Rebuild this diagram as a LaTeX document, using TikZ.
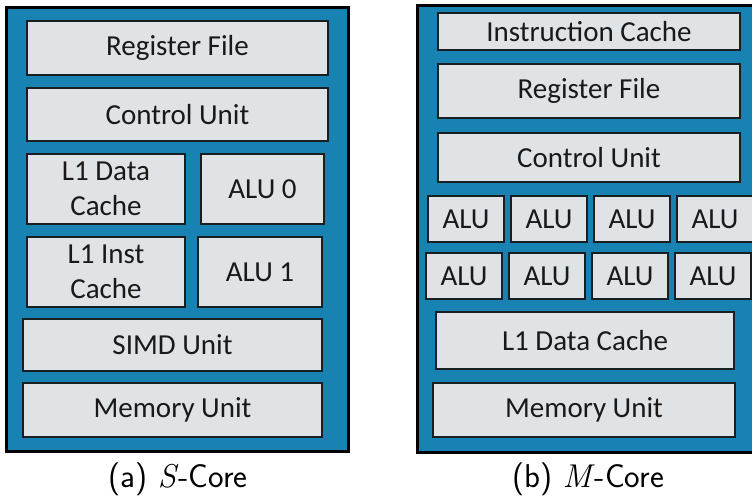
\documentclass[tikz,border=0pt]{standalone}
\usepackage{fontspec}
\newfontfamily\boxfont{Carlito}
\definecolor{coreblue}{RGB}{24,130,178}
\definecolor{unitgrey}{RGB}{224,227,230}
\definecolor{unitedge}{RGB}{25,30,35}
\newcommand{\mathletter}[1]{{\rmfamily\itshape #1\/}}
\tikzset{
  core/.style={draw=black,line width=3pt,fill=coreblue},
  unit/.style={draw=unitedge,line width=1.4pt,fill=unitgrey,rectangle,inner sep=0pt,
    font=\boxfont\fontsize{29}{35}\selectfont,align=center,text=black!90},
  captext/.style={font=\sffamily\fontsize{33}{38}\selectfont,inner sep=0pt}
}
\begin{document}
\begin{tikzpicture}[x=1pt,y=-1pt]
\clip (0,0) rectangle (752,498);
\fill[white] (0,0) rectangle (752,498);
% S-Core
\draw[core] (6,7) rectangle (348,451);
\node[unit,minimum width=301pt,minimum height=54pt] (srf) at (177.5,48) {Register File};
\node[unit,minimum width=301pt,minimum height=53pt] (scu) at (177.5,114.5) {Control Unit};
\node[unit,minimum width=158pt,minimum height=70pt] (sl1d) at (106,189) {L1 Data\\Cache};
\node[unit,minimum width=123pt,minimum height=70pt] (salu0) at (262.5,189) {ALU 0};
\node[unit,minimum width=158pt,minimum height=70pt] (sl1i) at (106,272) {L1 Inst\\Cache};
\node[unit,minimum width=124pt,minimum height=70pt] (salu1) at (260,272) {ALU 1};
\node[unit,minimum width=299pt,minimum height=52pt] (ssimd) at (172.5,345) {SIMD Unit};
\node[unit,minimum width=299pt,minimum height=54pt] (smu) at (172.5,410) {Memory Unit};
\node[captext] (scap) at (178,479) {(a) \mathletter{S}-Core};
% M-Core
\draw[core] (417,5) rectangle (762,452);
\node[unit,minimum width=302pt,minimum height=37pt] (mic) at (589,31.5) {Instruction Cache};
\node[unit,minimum width=302pt,minimum height=54pt] (mrf) at (589,91) {Register File};
\node[unit,minimum width=302pt,minimum height=49pt] (mcu) at (589,157.5) {Control Unit};
\foreach \x [count=\i] in {466,549,632,715}{
  \node[unit,minimum width=76pt,minimum height=46pt] (malua\i) at (\x,219) {ALU};
}
\foreach \x [count=\i] in {464,547,630,713}{
  \node[unit,minimum width=76pt,minimum height=46pt] (malub\i) at (\x,276) {ALU};
}
\node[unit,minimum width=298pt,minimum height=57pt] (ml1d) at (585,340.5) {L1 Data Cache};
\node[unit,minimum width=302pt,minimum height=54pt] (mmu) at (584,410) {Memory Unit};
\node[captext] (mcap) at (588,479) {(b) \mathletter{M}-Core};
\end{tikzpicture}
\end{document}
